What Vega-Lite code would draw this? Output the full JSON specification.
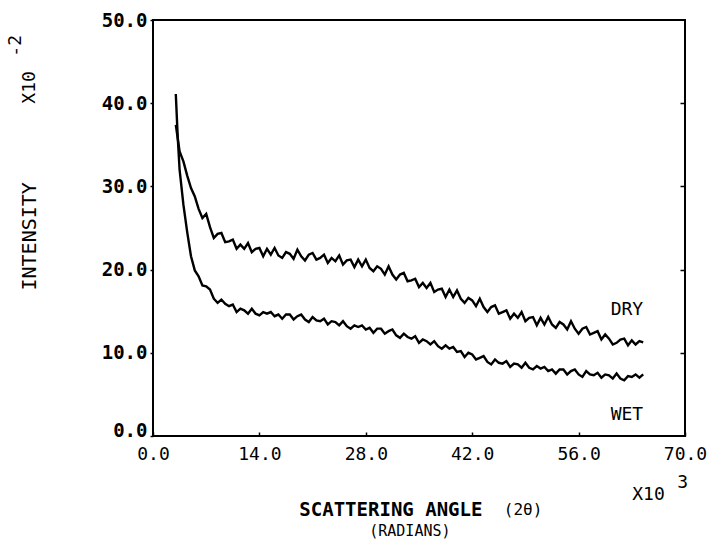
{
  "$schema": "https://vega.github.io/schema/vega-lite/v6.json",
  "width": 532,
  "height": 416,
  "autosize": {"type": "none"},
  "padding": {"left": 153, "top": 20, "right": 29, "bottom": 105},
  "background": "white",
  "config": {
    "view": {"stroke": "black", "strokeWidth": 2},
    "axis": {"grid": false, "domain": false, "labelFont": "DejaVu Sans Mono", "labelColor": "black", "tickColor": "black", "tickWidth": 1.5, "title": null}
  },
  "resolve": {"axis": {"x": "shared", "y": "independent"}},
  "datasets": {
    "curves": [
      {"s":"WET","x":3.0,"y":41.1},{"s":"WET","x":3.25,"y":36.0},{"s":"WET","x":3.5,"y":32.0},{"s":"WET","x":4.0,"y":27.8},{"s":"WET","x":4.5,"y":24.5},{"s":"WET","x":5.0,"y":21.6},{"s":"WET","x":5.5,"y":19.9},
      {"s":"WET","x":6.0,"y":19.2},{"s":"WET","x":6.5,"y":18.1},{"s":"WET","x":7.0,"y":18.0},{"s":"WET","x":7.5,"y":17.6},{"s":"WET","x":8.0,"y":16.5},{"s":"WET","x":8.5,"y":16.0},{"s":"WET","x":9.0,"y":16.4},{"s":"WET","x":9.5,"y":15.9},
      {"s":"WET","x":10.0,"y":15.6},{"s":"WET","x":10.5,"y":15.8},{"s":"WET","x":11.0,"y":14.9},{"s":"WET","x":11.5,"y":15.3},{"s":"WET","x":12.0,"y":15.1},{"s":"WET","x":12.5,"y":14.7},{"s":"WET","x":13.0,"y":15.3},{"s":"WET","x":13.5,"y":14.7},
      {"s":"WET","x":14.0,"y":14.5},{"s":"WET","x":14.5,"y":14.9},{"s":"WET","x":15.0,"y":14.7},{"s":"WET","x":15.5,"y":14.9},{"s":"WET","x":16.0,"y":14.4},{"s":"WET","x":16.5,"y":14.6},{"s":"WET","x":17.0,"y":14.1},{"s":"WET","x":17.5,"y":14.6},
      {"s":"WET","x":18.0,"y":14.6},{"s":"WET","x":18.5,"y":14.0},{"s":"WET","x":19.0,"y":14.4},{"s":"WET","x":19.5,"y":14.6},{"s":"WET","x":20.0,"y":14.0},{"s":"WET","x":20.5,"y":13.7},{"s":"WET","x":21.0,"y":14.3},{"s":"WET","x":21.5,"y":13.9},
      {"s":"WET","x":22.0,"y":13.8},{"s":"WET","x":22.5,"y":14.1},{"s":"WET","x":23.0,"y":13.4},{"s":"WET","x":23.5,"y":13.8},{"s":"WET","x":24.0,"y":13.7},{"s":"WET","x":24.5,"y":13.3},{"s":"WET","x":25.0,"y":13.8},{"s":"WET","x":25.5,"y":13.2},
      {"s":"WET","x":26.0,"y":12.9},{"s":"WET","x":26.5,"y":13.3},{"s":"WET","x":27.0,"y":13.1},{"s":"WET","x":27.5,"y":13.3},{"s":"WET","x":28.0,"y":12.8},{"s":"WET","x":28.5,"y":13.0},{"s":"WET","x":29.0,"y":12.4},{"s":"WET","x":29.5,"y":12.9},
      {"s":"WET","x":30.0,"y":12.9},{"s":"WET","x":30.5,"y":12.3},{"s":"WET","x":31.0,"y":12.6},{"s":"WET","x":31.5,"y":12.8},{"s":"WET","x":32.0,"y":12.1},{"s":"WET","x":32.5,"y":11.8},{"s":"WET","x":33.0,"y":12.3},{"s":"WET","x":33.5,"y":11.9},
      {"s":"WET","x":34.0,"y":11.7},{"s":"WET","x":34.5,"y":12.0},{"s":"WET","x":35.0,"y":11.2},{"s":"WET","x":35.5,"y":11.6},{"s":"WET","x":36.0,"y":11.4},{"s":"WET","x":36.5,"y":11.0},{"s":"WET","x":37.0,"y":11.4},{"s":"WET","x":37.5,"y":10.8},
      {"s":"WET","x":38.0,"y":10.5},{"s":"WET","x":38.5,"y":10.9},{"s":"WET","x":39.0,"y":10.5},{"s":"WET","x":39.5,"y":10.7},{"s":"WET","x":40.0,"y":10.1},{"s":"WET","x":40.5,"y":10.2},{"s":"WET","x":41.0,"y":9.5},{"s":"WET","x":41.5,"y":10.0},
      {"s":"WET","x":42.0,"y":9.8},{"s":"WET","x":42.5,"y":9.2},{"s":"WET","x":43.0,"y":9.4},{"s":"WET","x":43.5,"y":9.6},{"s":"WET","x":44.0,"y":8.9},{"s":"WET","x":44.5,"y":8.6},{"s":"WET","x":45.0,"y":9.2},{"s":"WET","x":45.5,"y":8.8},
      {"s":"WET","x":46.0,"y":8.7},{"s":"WET","x":46.5,"y":9.0},{"s":"WET","x":47.0,"y":8.3},{"s":"WET","x":47.5,"y":8.7},{"s":"WET","x":48.0,"y":8.6},{"s":"WET","x":48.5,"y":8.2},{"s":"WET","x":49.0,"y":8.8},{"s":"WET","x":49.5,"y":8.2},
      {"s":"WET","x":50.0,"y":8.0},{"s":"WET","x":50.5,"y":8.4},{"s":"WET","x":51.0,"y":8.1},{"s":"WET","x":51.5,"y":8.3},{"s":"WET","x":52.0,"y":7.8},{"s":"WET","x":52.5,"y":8.0},{"s":"WET","x":53.0,"y":7.5},{"s":"WET","x":53.5,"y":8.0},
      {"s":"WET","x":54.0,"y":8.0},{"s":"WET","x":54.5,"y":7.4},{"s":"WET","x":55.0,"y":7.8},{"s":"WET","x":55.5,"y":8.0},{"s":"WET","x":56.0,"y":7.4},{"s":"WET","x":56.5,"y":7.1},{"s":"WET","x":57.0,"y":7.8},{"s":"WET","x":57.5,"y":7.4},
      {"s":"WET","x":58.0,"y":7.3},{"s":"WET","x":58.5,"y":7.6},{"s":"WET","x":59.0,"y":7.0},{"s":"WET","x":59.5,"y":7.4},{"s":"WET","x":60.0,"y":7.3},{"s":"WET","x":60.5,"y":6.9},{"s":"WET","x":61.0,"y":7.5},{"s":"WET","x":61.5,"y":6.9},
      {"s":"WET","x":62.0,"y":6.7},{"s":"WET","x":62.5,"y":7.2},{"s":"WET","x":63.0,"y":7.1},{"s":"WET","x":63.5,"y":7.4},{"s":"WET","x":64.0,"y":7.0},{"s":"WET","x":64.5,"y":7.4},
      {"s":"DRY","x":3.0,"y":37.4},{"s":"DRY","x":3.5,"y":34.2},{"s":"DRY","x":4.0,"y":33.0},{"s":"DRY","x":4.5,"y":31.3},{"s":"DRY","x":5.0,"y":29.8},{"s":"DRY","x":5.5,"y":28.8},{"s":"DRY","x":6.0,"y":27.3},{"s":"DRY","x":6.5,"y":26.2},
      {"s":"DRY","x":7.0,"y":26.7},{"s":"DRY","x":7.5,"y":25.1},{"s":"DRY","x":8.0,"y":23.8},{"s":"DRY","x":8.5,"y":24.3},{"s":"DRY","x":9.0,"y":24.4},{"s":"DRY","x":9.5,"y":23.3},{"s":"DRY","x":10.0,"y":23.4},{"s":"DRY","x":10.5,"y":23.6},
      {"s":"DRY","x":11.0,"y":22.5},{"s":"DRY","x":11.5,"y":23.0},{"s":"DRY","x":12.0,"y":22.5},{"s":"DRY","x":12.5,"y":23.2},{"s":"DRY","x":13.0,"y":22.1},{"s":"DRY","x":13.5,"y":22.5},{"s":"DRY","x":14.0,"y":22.6},{"s":"DRY","x":14.5,"y":21.6},
      {"s":"DRY","x":15.0,"y":22.5},{"s":"DRY","x":15.5,"y":21.8},{"s":"DRY","x":16.0,"y":22.6},{"s":"DRY","x":16.5,"y":21.7},{"s":"DRY","x":17.0,"y":21.4},{"s":"DRY","x":17.5,"y":22.1},{"s":"DRY","x":18.0,"y":21.9},{"s":"DRY","x":18.5,"y":21.3},
      {"s":"DRY","x":19.0,"y":22.4},{"s":"DRY","x":19.5,"y":21.6},{"s":"DRY","x":20.0,"y":21.1},{"s":"DRY","x":20.5,"y":21.8},{"s":"DRY","x":21.0,"y":22.0},{"s":"DRY","x":21.5,"y":21.2},{"s":"DRY","x":22.0,"y":21.4},{"s":"DRY","x":22.5,"y":21.8},
      {"s":"DRY","x":23.0,"y":20.8},{"s":"DRY","x":23.5,"y":21.4},{"s":"DRY","x":24.0,"y":21.0},{"s":"DRY","x":24.5,"y":21.7},{"s":"DRY","x":25.0,"y":20.6},{"s":"DRY","x":25.5,"y":21.1},{"s":"DRY","x":26.0,"y":21.2},{"s":"DRY","x":26.5,"y":20.3},
      {"s":"DRY","x":27.0,"y":21.2},{"s":"DRY","x":27.5,"y":20.4},{"s":"DRY","x":28.0,"y":21.2},{"s":"DRY","x":28.5,"y":20.2},{"s":"DRY","x":29.0,"y":19.8},{"s":"DRY","x":29.5,"y":20.4},{"s":"DRY","x":30.0,"y":20.1},{"s":"DRY","x":30.5,"y":19.4},
      {"s":"DRY","x":31.0,"y":20.4},{"s":"DRY","x":31.5,"y":19.4},{"s":"DRY","x":32.0,"y":18.8},{"s":"DRY","x":32.5,"y":19.4},{"s":"DRY","x":33.0,"y":19.6},{"s":"DRY","x":33.5,"y":18.6},{"s":"DRY","x":34.0,"y":18.7},{"s":"DRY","x":34.5,"y":18.9},
      {"s":"DRY","x":35.0,"y":17.9},{"s":"DRY","x":35.5,"y":18.4},{"s":"DRY","x":36.0,"y":17.8},{"s":"DRY","x":36.5,"y":18.4},{"s":"DRY","x":37.0,"y":17.3},{"s":"DRY","x":37.5,"y":17.6},{"s":"DRY","x":38.0,"y":17.7},{"s":"DRY","x":38.5,"y":16.7},
      {"s":"DRY","x":39.0,"y":17.6},{"s":"DRY","x":39.5,"y":16.7},{"s":"DRY","x":40.0,"y":17.5},{"s":"DRY","x":40.5,"y":16.5},{"s":"DRY","x":41.0,"y":16.0},{"s":"DRY","x":41.5,"y":16.6},{"s":"DRY","x":42.0,"y":16.3},{"s":"DRY","x":42.5,"y":15.6},
      {"s":"DRY","x":43.0,"y":16.5},{"s":"DRY","x":43.5,"y":15.5},{"s":"DRY","x":44.0,"y":14.9},{"s":"DRY","x":44.5,"y":15.5},{"s":"DRY","x":45.0,"y":15.7},{"s":"DRY","x":45.5,"y":14.7},{"s":"DRY","x":46.0,"y":14.9},{"s":"DRY","x":46.5,"y":15.1},
      {"s":"DRY","x":47.0,"y":14.1},{"s":"DRY","x":47.5,"y":14.7},{"s":"DRY","x":48.0,"y":14.2},{"s":"DRY","x":48.5,"y":14.9},{"s":"DRY","x":49.0,"y":13.8},{"s":"DRY","x":49.5,"y":14.2},{"s":"DRY","x":50.0,"y":14.3},{"s":"DRY","x":50.5,"y":13.3},
      {"s":"DRY","x":51.0,"y":14.2},{"s":"DRY","x":51.5,"y":13.4},{"s":"DRY","x":52.0,"y":14.3},{"s":"DRY","x":52.5,"y":13.4},{"s":"DRY","x":53.0,"y":13.0},{"s":"DRY","x":53.5,"y":13.7},{"s":"DRY","x":54.0,"y":13.4},{"s":"DRY","x":54.5,"y":12.8},
      {"s":"DRY","x":55.0,"y":13.8},{"s":"DRY","x":55.5,"y":12.9},{"s":"DRY","x":56.0,"y":12.3},{"s":"DRY","x":56.5,"y":12.9},{"s":"DRY","x":57.0,"y":13.1},{"s":"DRY","x":57.5,"y":12.2},{"s":"DRY","x":58.0,"y":12.4},{"s":"DRY","x":58.5,"y":12.6},
      {"s":"DRY","x":59.0,"y":11.6},{"s":"DRY","x":59.5,"y":12.2},{"s":"DRY","x":60.0,"y":11.7},{"s":"DRY","x":60.5,"y":11.0},{"s":"DRY","x":61.0,"y":11.2},{"s":"DRY","x":61.5,"y":11.6},{"s":"DRY","x":62.0,"y":11.7},{"s":"DRY","x":62.5,"y":10.9},
      {"s":"DRY","x":63.0,"y":11.5},{"s":"DRY","x":63.5,"y":11.0},{"s":"DRY","x":64.0,"y":11.4},{"s":"DRY","x":64.5,"y":11.25}
    ]
  },
  "layer": [
    {
      "data": {"name": "curves"},
      "mark": {"type": "line", "color": "black", "strokeWidth": 2.4},
      "encoding": {
        "x": {"field": "x", "type": "quantitative", "scale": {"domain": [0, 70], "nice": false, "zero": false},
              "axis": {"values": [0, 14, 28, 42, 56, 70], "format": ".1f", "labelFontSize": 18, "tickSize": -4, "labelPadding": 13, "labelDx": 5, "labelFlush": false, "labelOverlap": false}},
        "y": {"field": "y", "type": "quantitative", "scale": {"domain": [0, 50], "nice": false, "zero": false},
              "axis": {"orient": "left", "values": [0, 10, 20, 30, 40, 50], "format": ".1f", "labelFontSize": 19, "labelFontWeight": "bold", "tickSize": 3, "labelPadding": 3, "labelFlush": false, "labelDy": 2,
                       "labelBaseline": {"condition": {"test": "datum.value == 0", "value": "alphabetic"}, "value": "middle"}}},
        "detail": {"field": "s"}
      }
    },
    {
      "data": {"values": [{"x": 0, "y": 0}]},
      "mark": {"type": "point", "opacity": 0},
      "encoding": {
        "x": {"field": "x", "type": "quantitative"},
        "y": {"field": "y", "type": "quantitative",
              "axis": {"orient": "right", "values": [10, 20, 30, 40], "labels": false, "tickSize": -5}}
      }
    },
    {
      "data": {"values": [
        {"x": 64.5, "y": 15.1, "t": "DRY"},
        {"x": 64.5, "y": 2.5, "t": "WET"}
      ]},
      "mark": {"type": "text", "font": "DejaVu Sans Mono", "fontSize": 18, "align": "right", "baseline": "middle", "color": "black"},
      "encoding": {
        "x": {"field": "x", "type": "quantitative"},
        "y": {"field": "y", "type": "quantitative", "axis": null},
        "text": {"field": "t"}
      }
    },
    {
      "data": {"values": [
        {"x": 31.3, "y": -8.9, "t": "SCATTERING ANGLE"}
      ]},
      "mark": {"type": "text", "font": "DejaVu Sans Mono", "fontSize": 19, "fontWeight": "bold", "align": "center", "baseline": "middle", "color": "black"},
      "encoding": {
        "x": {"field": "x", "type": "quantitative"},
        "y": {"field": "y", "type": "quantitative", "axis": null},
        "text": {"field": "t"}
      }
    },
    {
      "data": {"values": [
        {"x": 48.7, "y": -8.95, "t": "(2θ)"}
      ]},
      "mark": {"type": "text", "font": "DejaVu Sans Mono", "fontSize": 16, "align": "center", "baseline": "middle", "color": "black"},
      "encoding": {
        "x": {"field": "x", "type": "quantitative"},
        "y": {"field": "y", "type": "quantitative", "axis": null},
        "text": {"field": "t"}
      }
    },
    {
      "data": {"values": [
        {"x": 33.8, "y": -11.4, "t": "(RADIANS)"}
      ]},
      "mark": {"type": "text", "font": "DejaVu Sans Mono", "fontSize": 15, "align": "center", "baseline": "middle", "color": "black"},
      "encoding": {
        "x": {"field": "x", "type": "quantitative"},
        "y": {"field": "y", "type": "quantitative", "axis": null},
        "text": {"field": "t"}
      }
    },
    {
      "data": {"values": [
        {"x": 65.2, "y": -7.09, "t": "X10"},
        {"x": 69.7, "y": -5.65, "t": "3"}
      ]},
      "mark": {"type": "text", "font": "DejaVu Sans Mono", "fontSize": 18, "align": "center", "baseline": "middle", "color": "black"},
      "encoding": {
        "x": {"field": "x", "type": "quantitative"},
        "y": {"field": "y", "type": "quantitative", "axis": null},
        "text": {"field": "t"}
      }
    },
    {
      "data": {"values": [
        {"x": -16.2, "y": 41.9, "t": "X10"},
        {"x": -18.0, "y": 46.9, "t": "-2"}
      ]},
      "mark": {"type": "text", "font": "DejaVu Sans Mono", "fontSize": 18, "angle": 270, "align": "center", "baseline": "middle", "color": "black"},
      "encoding": {
        "x": {"field": "x", "type": "quantitative"},
        "y": {"field": "y", "type": "quantitative", "axis": null},
        "text": {"field": "t"}
      }
    },
    {
      "data": {"values": [
        {"x": -16.2, "y": 24.0, "t": "INTENSITY"}
      ]},
      "mark": {"type": "text", "font": "DejaVu Sans Mono", "fontSize": 20, "angle": 270, "align": "center", "baseline": "middle", "color": "black"},
      "encoding": {
        "x": {"field": "x", "type": "quantitative"},
        "y": {"field": "y", "type": "quantitative", "axis": null},
        "text": {"field": "t"}
      }
    }
  ]
}
